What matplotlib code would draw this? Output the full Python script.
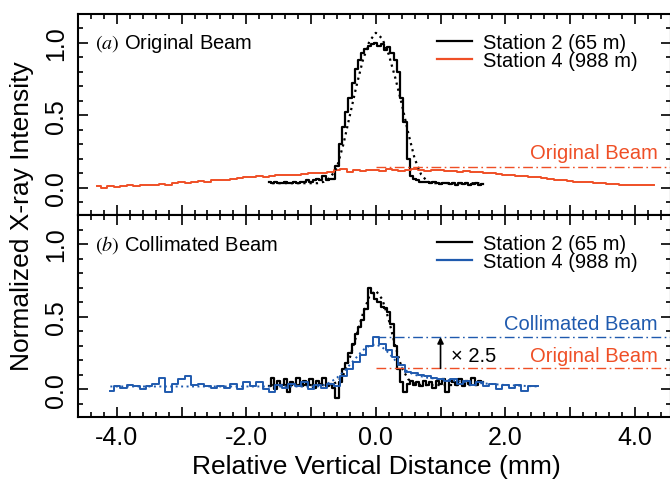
import numpy as np
import matplotlib.pyplot as plt
from matplotlib.lines import Line2D

plt.rcParams['font.family'] = ['Liberation Sans', 'DejaVu Sans']
plt.rcParams['mathtext.fontset'] = 'stix'
plt.rcParams['axes.unicode_minus'] = False

ORANGE = '#ef4f26'
BLUE = '#1f5aae'

# ---- panel (a): original beam ----
# station 2, bins of 0.05 mm starting at -1.65
a_st2_start, a_st2_step = -1.65, 0.05
a_st2 = [0.04, 0.03, 0.04, 0.03, 0.03, 0.04, 0.03, 0.03, 0.04, 0.03,
         0.04, 0.04, 0.05, 0.04, 0.05, 0.06, 0.05, 0.08, 0.05, 0.06,
         0.06, 0.15, 0.30, 0.42, 0.52, 0.62, 0.72, 0.82, 0.88, 0.93,
         0.96, 0.98, 0.99, 1.00, 0.98, 0.99, 0.95, 0.97, 0.93, 0.88,
         0.80, 0.62, 0.45, 0.20, 0.08, 0.06, 0.05, 0.04, 0.04, 0.035,
         0.03, 0.035, 0.03, 0.025, 0.03, 0.03, 0.025, 0.03, 0.02, 0.03,
         0.025, 0.03, 0.02, 0.025, 0.03, 0.02, 0.025]
# station 4, bins of 0.1 mm starting at -4.3
a_st4_start, a_st4_step = -4.3, 0.1
a_st4 = [0.01, 0.00, 0.01, 0.005, 0.01, 0.015, 0.01, 0.02, 0.015, 0.02,
         0.025, 0.02, 0.03, 0.035, 0.03, 0.04, 0.045, 0.04, 0.05, 0.05,
         0.055, 0.06, 0.065, 0.07, 0.07, 0.08, 0.075, 0.08, 0.085, 0.09,
         0.085, 0.09, 0.095, 0.10, 0.10, 0.10, 0.105, 0.12, 0.125, 0.11,
         0.12, 0.115, 0.12, 0.12, 0.115, 0.125, 0.12, 0.115, 0.12, 0.125,
         0.12, 0.115, 0.12, 0.12, 0.115, 0.115, 0.11, 0.115, 0.11, 0.105,
         0.10, 0.10, 0.095, 0.09, 0.085, 0.08, 0.08, 0.075, 0.07, 0.065,
         0.06, 0.055, 0.05, 0.045, 0.04, 0.04, 0.035, 0.03, 0.03, 0.025,
         0.025, 0.02, 0.02, 0.015, 0.02, 0.015, 0.02]
# fit of station 2
a_fit_x = [-1.6, -1.2, -0.9, -0.8, -0.7, -0.6, -0.5, -0.4, -0.3, -0.2,
           -0.1, 0.0, 0.1, 0.2, 0.3, 0.4, 0.5, 0.6, 0.7, 0.8, 0.9, 1.2, 1.6]
a_fit_y = [0.03, 0.03, 0.03, 0.04, 0.07, 0.14, 0.30, 0.50, 0.70, 0.88,
           1.01, 1.07, 1.03, 0.92, 0.76, 0.58, 0.38, 0.20, 0.09, 0.04, 0.03, 0.03, 0.03]
a_orig_level = 0.14

# ---- panel (b): collimated beam ----
b_st2_start, b_st2_step = -1.65, 0.05
b_st2 = [0.02, 0.08, 0.00, 0.06, 0.03, 0.07, -0.02, 0.05, 0.04, 0.08,
         0.02, 0.06, 0.03, 0.07, 0.01, 0.06, 0.04, 0.08, 0.02, 0.04,
         0.01, -0.06, 0.05, 0.14, 0.18, 0.25, 0.31, 0.38, 0.43, 0.48,
         0.55, 0.70, 0.66, 0.62, 0.60, 0.57, 0.56, 0.53, 0.45, 0.30,
         0.14, 0.05, -0.02, 0.04, 0.06, 0.03, 0.05, 0.02, 0.06, 0.03,
         0.05, 0.01, 0.06, 0.04, 0.07, -0.02, 0.06, 0.05, 0.03, 0.07,
         0.02, 0.06, 0.04, 0.08, 0.03, 0.06, 0.05]
b_st4_start, b_st4_step = -4.1, 0.1
b_st4 = [-0.01, 0.02, 0.01, 0.03, 0.02, 0.00, 0.02, 0.04, 0.08, -0.02,
         0.04, 0.07, 0.09, 0.03, 0.04, 0.02, 0.01, 0.02, 0.01, 0.04,
         0.00, 0.05, 0.02, 0.05, 0.00, -0.02, 0.03, 0.01, 0.04, 0.02,
         0.05, 0.00, 0.03, 0.01, 0.04, 0.02, 0.09, 0.14, 0.19, 0.24,
         0.30, 0.36, 0.31, 0.27, 0.22, 0.17, 0.12, 0.11, 0.10, 0.09,
         0.08, 0.07, 0.06, 0.07, 0.04, 0.06, 0.03, 0.05, 0.02, 0.04,
         0.00, 0.03, 0.01, 0.03, -0.01, 0.02, 0.02]
b_fit2_x = [-1.6, -1.0, -0.7, -0.6, -0.5, -0.4, -0.3, -0.2, -0.1, 0.0,
            0.1, 0.2, 0.3, 0.4, 0.5, 0.6, 0.7, 1.0, 1.6]
b_fit2_y = [0.03, 0.03, 0.03, 0.05, 0.10, 0.22, 0.37, 0.52, 0.64, 0.68,
            0.62, 0.48, 0.30, 0.15, 0.07, 0.04, 0.03, 0.03, 0.03]
b_fit4_x = [-4.1, -2.0, -0.9, -0.8, -0.7, -0.6, -0.5, -0.4, -0.3, -0.2,
            -0.1, 0.0, 0.1, 0.2, 0.3, 0.4, 0.5, 0.6, 0.8, 1.0, 1.4, 2.0, 2.5]
b_fit4_y = [0.02, 0.02, 0.02, 0.03, 0.05, 0.08, 0.12, 0.17, 0.22, 0.27,
            0.30, 0.31, 0.29, 0.25, 0.20, 0.15, 0.12, 0.10, 0.08, 0.07, 0.05, 0.03, 0.02]
b_orig_level = 0.145
b_coll_level = 0.36
gain_x = 1.0


def bins(start, step, vals):
    return np.round(start + step * np.arange(len(vals)), 3)


def style_axes(ax):
    ax.set_xlim(-4.6, 4.56)
    ax.set_ylim(-0.19, 1.2)
    ax.set_xticks(np.arange(-4, 5, 1))
    ax.set_xticks(np.arange(-4.4, 4.6, 0.2), minor=True)
    ax.set_yticks([0.0, 0.5, 1.0])
    ax.set_yticks(np.arange(-0.1, 1.2, 0.1), minor=True)
    ax.set_xticklabels(['-4.0', '', '-2.0', '', '0.0', '', '2.0', '', '4.0'])
    ax.set_yticklabels(['0.0', '0.5', '1.0'], rotation=90, va='center')
    ax.tick_params(which='both', direction='in', top=True, right=True,
                   width=1.2, labelsize=18)
    ax.tick_params(which='major', length=7)
    ax.tick_params(which='minor', length=3.5)
    ax.tick_params(axis='x', pad=6)
    ax.tick_params(axis='y', pad=7)
    for s in ax.spines.values():
        s.set_linewidth(1.5)


def add_legend(ax, color, top_px):
    ax.legend(handles=[Line2D([], [], color='black', lw=1.6),
                       Line2D([], [], color=color, lw=1.6)],
              labels=['Station 2 (65 m)', 'Station 4 (988 m)'],
              loc='upper left', bbox_to_anchor=(437 / 670, 1 - top_px / 481),
              bbox_transform=fig.transFigure, frameon=False, fontsize=14.5,
              borderpad=0, borderaxespad=0, handlelength=1.75, handletextpad=0.55,
              labelspacing=-0.05)


fig = plt.figure(figsize=(6.7, 4.81), dpi=100)
L, R = 78 / 670, 671 / 670
ax_a = fig.add_axes([L, 1 - 216 / 481, R - L, (216 - 15) / 481])
ax_b = fig.add_axes([L, 1 - 418 / 481, R - L, (418 - 216) / 481])

dashdot = (0, (7, 2.5, 1.2, 2.5))

# panel a
ax_a.step(bins(a_st2_start, a_st2_step, a_st2), a_st2, where='mid', color='black', lw=1.6)
ax_a.step(bins(a_st4_start, a_st4_step, a_st4), a_st4, where='mid', color=ORANGE, lw=1.4)
ax_a.plot(a_fit_x, a_fit_y, color='black', lw=1.6, ls=(0, (1, 1.8)))
ax_a.plot([0, 5], [a_orig_level] * 2, color=ORANGE, lw=1.0, ls=dashdot)
ax_a.text(-4.34, 1.0, r'$(a)$ Original Beam', fontsize=14.5, va='center')
ax_a.text(4.35, 0.24, 'Original Beam', color=ORANGE, fontsize=14.5, ha='right', va='center')
style_axes(ax_a)
ax_a.tick_params(axis='x', labelbottom=False)
add_legend(ax_a, ORANGE, 34)

# panel b
ax_b.step(bins(b_st2_start, b_st2_step, b_st2), b_st2, where='mid', color='black', lw=1.6)
ax_b.plot(b_fit2_x, b_fit2_y, color='black', lw=1.6, ls=(0, (1, 1.8)))
ax_b.plot(b_fit4_x, b_fit4_y, color=BLUE, lw=1.4, ls=(0, (1, 1.8)))
ax_b.step(bins(b_st4_start, b_st4_step, b_st4), b_st4, where='mid', color=BLUE, lw=1.4)
ax_b.plot([0, 5], [b_coll_level] * 2, color=BLUE, lw=1.0, ls=dashdot)
ax_b.plot([0, 5], [b_orig_level] * 2, color=ORANGE, lw=1.0, ls=dashdot)
ax_b.annotate('', xy=(gain_x, b_coll_level), xytext=(gain_x, b_orig_level),
              arrowprops=dict(arrowstyle='-|>', color='black', lw=1.2,
                              shrinkA=0, shrinkB=0, mutation_scale=9))
ax_b.text(gain_x + 0.16, 0.23, '\u00d7 2.5', fontsize=14.5, va='center')
ax_b.text(4.35, 0.45, 'Collimated Beam', color=BLUE, fontsize=14.5, ha='right', va='center')
ax_b.text(4.35, 0.235, 'Original Beam', color=ORANGE, fontsize=14.5, ha='right', va='center')
ax_b.text(-4.34, 1.0, r'$(b)$ Collimated Beam', fontsize=14.5, va='center')
style_axes(ax_b)
add_legend(ax_b, BLUE, 235)

fig.text(22 / 670, 1 - 216 / 481, 'Normalized X-ray Intensity', rotation=90,
         fontsize=19, ha='center', va='center')
fig.text(376 / 670, 1 - 467 / 481, 'Relative Vertical Distance (mm)',
         fontsize=19, ha='center', va='center')

fig.savefig('out.png', dpi=100)
